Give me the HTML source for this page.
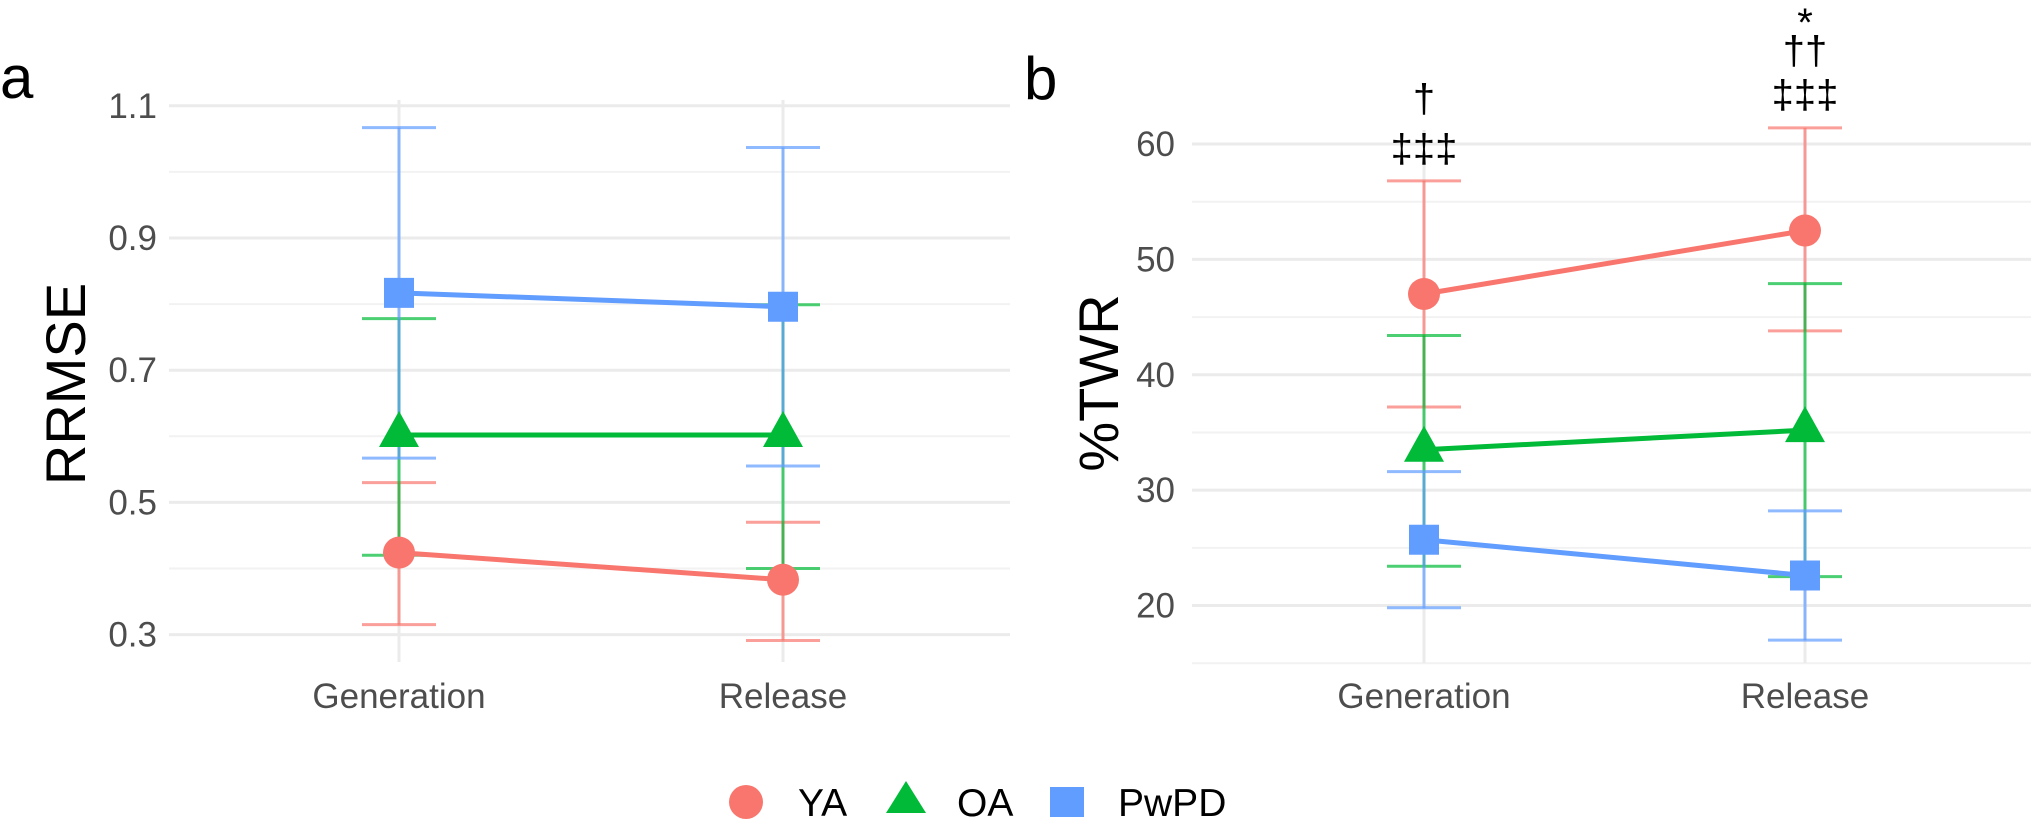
<!DOCTYPE html>
<html><head><meta charset="utf-8"><style>
html,body{margin:0;padding:0;background:#fff;}
svg{display:block;font-family:"Liberation Sans",Arial,sans-serif;}
</style></head><body>
<svg id="chart" width="2031" height="825" viewBox="0 0 2031 825" xmlns="http://www.w3.org/2000/svg"></svg>
<script>
const categories = ["Generation", "Release"];
const groups = ["YA", "OA", "PwPD"];
const colors = {YA:"#F8766D", OA:"#00BA38", PwPD:"#619CFF"};
// Panel a: RRMSE
const rrmseMean = {YA:[0.424,0.383], OA:[0.602,0.602], PwPD:[0.817,0.796]};
const rrmseLow  = {YA:[0.315,0.291], OA:[0.420,0.400], PwPD:[0.567,0.555]};
const rrmseHigh = {YA:[0.530,0.470], OA:[0.778,0.799], PwPD:[1.067,1.037]};
const rrmseTicks = [0.3,0.5,0.7,0.9,1.1];
const rrmseTickLabels = ["0.3","0.5","0.7","0.9","1.1"];
const rrmseMinor = [0.4,0.6,0.8,1.0];
// Panel b: %TWR
const twrMean = {YA:[47.0,52.5], OA:[33.5,35.2], PwPD:[25.7,22.6]};
const twrLow  = {YA:[37.2,43.8], OA:[23.4,22.5], PwPD:[19.8,17.0]};
const twrHigh = {YA:[56.8,61.4], OA:[43.4,47.9], PwPD:[31.6,28.2]};
const twrTicks = [20,30,40,50,60];
const twrTickLabels = ["20","30","40","50","60"];
const twrMinor = [15,25,35,45,55];
const annotations = [["†","‡‡‡"],["*","††","‡‡‡"]];

const NS="http://www.w3.org/2000/svg";
const svg=document.getElementById('chart');
function mk(tag,attrs,parent){const e=document.createElementNS(NS,tag);for(const k in attrs)e.setAttribute(k,attrs[k]);(parent||svg).appendChild(e);return e;}

function panel(cfg){
  const g=mk('g',{});
  
  
  const y=v=>cfg.y0+(v-cfg.v0)*(cfg.y1-cfg.y0)/(cfg.v1-cfg.v0);
  const x=i=>cfg.xs[i];
  cfg.minor.forEach(v=>{const l=mk('line',{x1:cfg.left,x2:cfg.right,y1:y(v),y2:y(v),stroke:'#f2f2f2','stroke-width':2},g);
    });
  cfg.ticks.forEach((v,i)=>{const l=mk('line',{x1:cfg.left,x2:cfg.right,y1:y(v),y2:y(v),stroke:'#ebebeb','stroke-width':3},g);
    
    const t=mk('text',{x:cfg.tickRight,y:y(v)+12,'text-anchor':'end','font-size':35,fill:'#4d4d4d'},g);t.textContent=cfg.tickLabels[i];
    });
  categories.forEach((c,i)=>{const l=mk('line',{x1:x(i),x2:x(i),y1:cfg.top,y2:cfg.bottom,stroke:'#ebebeb','stroke-width':3},g);
    
    const t=mk('text',{x:x(i),y:708,'text-anchor':'middle','font-size':35,fill:'#4d4d4d'},g);t.textContent=c;
    });
  const yt=mk('text',{x:0,y:0,transform:`translate(${cfg.titleX},${cfg.titleY}) rotate(-90)`,'text-anchor':'middle','font-size':56,fill:'#000'},g);
  yt.textContent=cfg.title;
  const pl=mk('text',{x:cfg.labelX,y:cfg.labelY,'font-size':60,fill:'#000'},g);pl.textContent=cfg.label;
  
  groups.forEach(gr=>{categories.forEach((c,i)=>{
    const eg=mk('g',{stroke:colors[gr],'stroke-width':3,'stroke-opacity':0.7},g);
    
    mk('line',{x1:x(i),x2:x(i),y1:y(cfg.low[gr][i]),y2:y(cfg.high[gr][i])},eg);
    mk('line',{x1:x(i)-37,x2:x(i)+37,y1:y(cfg.low[gr][i]),y2:y(cfg.low[gr][i])},eg);
    mk('line',{x1:x(i)-37,x2:x(i)+37,y1:y(cfg.high[gr][i]),y2:y(cfg.high[gr][i])},eg);
  });});
  groups.forEach(gr=>{
    const ln=mk('line',{x1:x(0),y1:y(cfg.mean[gr][0]),x2:x(1),y2:y(cfg.mean[gr][1]),stroke:colors[gr],'stroke-width':5},g);
    
    categories.forEach((c,i)=>{const cx=x(i),cy=y(cfg.mean[gr][i]);let m;
      if(gr==='YA')m=mk('circle',{cx,cy,r:16,fill:colors[gr]},g);
      else if(gr==='OA')m=mk('polygon',{points:`${cx},${cy-24} ${cx-20},${cy+12} ${cx+20},${cy+12}`,fill:colors[gr]},g);
      else m=mk('rect',{x:cx-15,y:cy-15,width:30,height:30,fill:colors[gr]},g);
      });
  });
  return {g,x,y};
}

panel({name:'panel-a-rrmse',v0:0.3,v1:1.1,y0:634.6,y1:105.8,left:169,right:1010,top:100,bottom:662,xs:[399,783],
  ticks:rrmseTicks,tickLabels:rrmseTickLabels,minor:rrmseMinor,tickRight:157,title:'RRMSE',titleX:85,titleY:384,
  label:'a',labelX:0,labelY:98,mean:rrmseMean,low:rrmseLow,high:rrmseHigh});
const pb=panel({name:'panel-b-twr',v0:20,v1:60,y0:605.5,y1:144,left:1192,right:2031,top:130,bottom:663,xs:[1424,1805],
  ticks:twrTicks,tickLabels:twrTickLabels,minor:twrMinor,tickRight:1175,title:'%TWR',titleX:1118,titleY:383,
  label:'b',labelX:1024,labelY:99,mean:twrMean,low:twrLow,high:twrHigh});
const annBase=[[112,162],[36,64,108]];
annotations.forEach((arr,i)=>arr.forEach((s,j)=>{const t=mk('text',{x:pb.x(i),y:annBase[i][j],'text-anchor':'middle','font-size':40,fill:'#000'},pb.g);
  t.textContent=s;}));

const lg=mk('g',{});


const legX=[746,906,1067], legTX=[798,957,1118];
groups.forEach((gr,i)=>{const cx=legX[i],cy=802;let m;
  if(gr==='YA')m=mk('circle',{cx,cy,r:17,fill:colors[gr]},lg);
  else if(gr==='OA')m=mk('polygon',{points:`${cx},${cy-21} ${cx-20},${cy+11} ${cx+20},${cy+11}`,fill:colors[gr]},lg);
  else m=mk('rect',{x:cx-17,y:cy-15,width:34,height:30,fill:colors[gr]},lg);
  
  const t=mk('text',{x:legTX[i],y:cy+14,'font-size':39,fill:'#000'},lg);t.textContent=gr;
  });
</script>
</body></html>
